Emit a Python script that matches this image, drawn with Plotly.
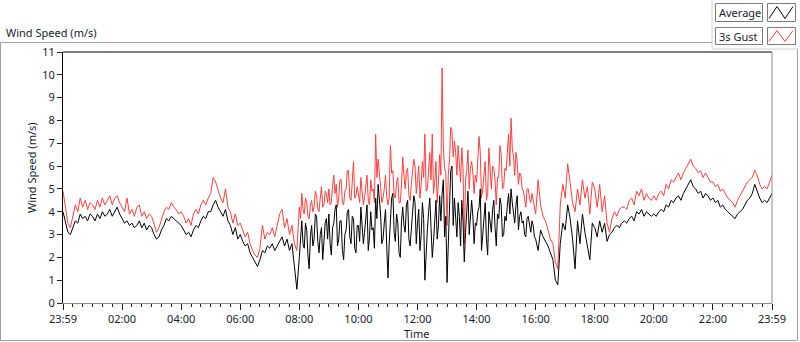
import numpy as np
import plotly.graph_objects as go

# ---- data ----
# 00:00-08:00 and 16:00-24:00 at 5-minute steps, 08:00-16:00 at 2.5-minute steps
tick_hours = [0, 2, 4, 6, 8, 10, 12, 14, 16, 18, 20, 22, 24]
tick_labels = ["23:59", "02:00", "04:00", "06:00", "08:00", "10:00", "12:00",
               "14:00", "16:00", "18:00", "20:00", "22:00", "23:59"]

avg_early = [
    4.0, 3.6, 3.1, 3.0, 3.3, 3.6, 3.5, 3.9, 3.7, 3.8, 3.6, 3.9,
    3.8, 3.6, 3.9, 3.7, 4.0, 3.8, 3.9, 4.1, 3.8, 4.0, 4.2, 3.9,
    3.7, 3.5, 3.6, 3.4, 3.5, 3.3, 3.4, 3.6, 3.3, 3.5, 3.2, 3.4,
    3.3, 3.0, 2.8, 2.9, 3.2, 3.4, 3.7, 3.6, 3.8, 3.7, 3.6, 3.5,
    3.4, 3.2, 3.0, 3.1, 2.9, 3.2, 3.4, 3.3, 3.6, 3.8, 3.7, 4.0,
    4.0, 4.3, 4.5, 4.2, 4.0, 3.8, 4.1, 3.6, 3.4, 3.0, 3.3, 2.8,
    3.0, 2.7, 2.5, 2.6, 2.2, 2.0, 1.8, 1.6, 1.9, 2.3, 2.2, 2.5,
    2.4, 2.6, 2.3, 2.5, 2.7, 2.9, 2.5, 2.8, 2.3, 2.6, 1.6, 0.6,
]
gust_early = [
    4.9, 4.2, 3.5, 3.3, 3.8, 4.3, 4.0, 4.6, 4.2, 4.5, 4.1, 4.4,
    4.3, 4.1, 4.5, 4.2, 4.6, 4.3, 4.5, 4.7, 4.3, 4.6, 4.7, 4.4,
    4.2, 4.0, 4.6, 3.9, 4.1, 3.8, 4.2, 4.3, 3.8, 4.0, 3.7, 3.9,
    3.8, 3.4, 3.1, 3.3, 3.7, 4.0, 4.2, 4.1, 4.4, 4.2, 4.1, 3.9,
    4.0, 3.8, 3.5, 3.7, 3.4, 3.9, 4.1, 3.9, 4.3, 4.5, 4.3, 4.6,
    4.8, 5.5, 5.3, 4.9, 4.6, 4.4, 5.0, 4.2, 4.0, 3.5, 3.9, 3.4,
    3.5, 3.2, 2.9, 3.1, 2.6, 2.3, 2.1, 2.0, 2.4, 3.4, 2.8, 3.1,
    3.0, 3.3, 2.9, 3.4, 3.9, 4.1, 3.3, 3.7, 3.0, 3.4, 2.6, 2.3,
]

avg_mid = [
    2.0, 3.1, 3.6, 2.6, 2.4, 3.5, 3.2, 2.1, 1.5, 2.9, 3.4, 2.5, 2.8, 3.9, 3.8, 2.7, 2.2, 3.0, 3.3, 1.9, 2.6, 3.5, 3.7, 2.8,
    3.9, 2.6, 2.1, 3.3, 3.5, 4.1, 4.3, 2.5, 2.8, 3.6, 3.6, 2.3, 1.9, 3.0, 3.2, 4.0, 4.1, 2.9, 2.6, 3.8, 3.7, 2.4, 2.2, 3.4,
    3.4, 2.7, 4.2, 3.5, 2.6, 3.1, 3.8, 4.3, 2.3, 2.9, 4.0, 3.2, 3.3, 2.4, 4.6, 3.7, 5.2, 4.4, 3.9, 2.6, 2.8, 3.5, 4.1, 2.5,
    1.1, 2.6, 3.8, 4.6, 4.8, 3.1, 2.7, 3.9, 3.5, 2.2, 2.0, 3.6, 4.2, 3.4, 3.1, 4.3, 4.5, 2.8, 2.5, 3.3, 3.8, 4.7, 4.4, 2.6,
    3.5, 4.1, 2.3, 3.0, 4.4, 3.7, 1.0, 2.5, 3.2, 4.0, 4.6, 3.3, 2.0, 2.7, 3.9, 4.5, 2.8, 3.4, 4.7, 3.6, 4.8, 5.4, 2.9, 3.8,
    0.9, 2.8, 4.2, 5.8, 6.0, 3.4, 4.6, 3.9, 2.9, 4.4, 3.8, 2.5, 4.5, 3.6, 1.8, 3.1, 4.1, 4.9, 3.0, 3.6, 4.5, 3.8, 2.6, 3.5,
    3.4, 4.0, 4.2, 5.0, 2.3, 3.0, 3.6, 4.4, 2.8, 2.1, 4.0, 3.5, 3.1, 4.1, 4.5, 3.3, 2.5, 3.9, 3.7, 4.6, 4.3, 2.9, 3.0, 3.8,
    3.6, 4.3, 4.8, 3.9, 5.0, 4.4, 3.9, 3.5, 4.3, 4.7, 3.2, 3.8, 4.0, 3.5, 3.6, 3.0, 2.9, 3.7, 3.8, 3.3, 3.1, 3.6, 3.4, 2.9,
]
gust_mid = [
    4.2, 3.7, 4.8, 4.1, 3.9, 4.6, 4.4, 3.8, 3.7, 4.3, 4.5, 4.0, 4.2, 4.9, 4.7, 4.1, 4.0, 4.6, 5.1, 4.2, 4.3, 4.9, 4.8, 4.4,
    5.0, 4.3, 4.4, 5.1, 5.6, 4.8, 5.2, 4.2, 4.6, 5.4, 5.4, 4.4, 4.3, 4.9, 5.0, 5.8, 5.8, 4.6, 4.5, 5.3, 6.2, 4.6, 4.7, 5.1,
    4.8, 4.4, 5.5, 5.0, 4.3, 4.6, 5.2, 5.6, 4.5, 4.3, 5.4, 4.9, 5.0, 4.4, 7.4, 5.5, 6.3, 5.8, 5.1, 4.4, 4.6, 5.0, 5.6, 4.7,
    4.3, 4.6, 6.9, 5.7, 5.8, 4.7, 4.6, 5.3, 5.5, 4.4, 4.4, 5.2, 6.4, 5.6, 5.0, 5.8, 5.9, 4.7, 4.5, 5.2, 5.7, 6.3, 6.0, 4.8,
    5.4, 6.0, 4.6, 5.2, 6.2, 5.5, 7.4, 4.9, 5.0, 5.8, 6.6, 5.4, 7.4, 4.8, 5.3, 6.2, 4.4, 5.3, 6.5, 5.6, 10.3, 6.8, 5.9, 5.7,
    3.4, 5.6, 6.3, 7.7, 7.5, 6.4, 7.1, 6.6, 5.6, 6.9, 6.0, 5.3, 6.8, 5.9, 2.6, 5.4, 5.8, 6.7, 5.0, 5.9, 6.2, 5.7, 4.8, 5.6,
    5.3, 6.1, 7.3, 6.6, 4.6, 5.0, 5.6, 6.2, 4.5, 4.8, 6.8, 5.6, 5.0, 6.0, 5.9, 5.4, 4.3, 5.5, 5.5, 6.9, 6.5, 5.0, 5.1, 5.9,
    5.8, 6.6, 7.4, 6.0, 8.1, 6.8, 6.4, 5.6, 6.6, 6.2, 5.2, 5.7, 5.6, 5.0, 4.9, 4.6, 4.2, 5.0, 5.0, 4.6, 4.4, 4.8, 4.5, 4.2,
]

avg_late = [
    2.8, 2.3, 3.2, 2.9, 2.7, 2.5, 2.2, 1.9, 1.0, 0.8, 2.6, 3.5,
    3.2, 4.3, 3.7, 2.8, 1.5, 3.6, 2.6, 3.9, 3.1, 2.4, 1.9, 3.5,
    3.3, 2.9, 3.6, 3.1, 3.5, 2.7, 3.0, 3.1, 3.3, 3.4, 3.3, 3.5,
    3.6, 3.5, 3.7, 3.8, 3.6, 4.0, 3.9, 4.1, 3.8, 4.0, 3.9, 3.8,
    3.9, 3.8, 4.0, 4.1, 4.0, 4.3, 4.2, 4.5, 4.4, 4.6, 4.7, 4.5,
    4.8, 5.0, 5.2, 5.4, 5.1, 5.0, 4.8, 4.9, 4.6, 4.8, 4.7, 4.5,
    4.6, 4.4, 4.5, 4.2, 4.3, 4.1, 4.0, 3.9, 3.8, 3.7, 3.9, 4.0,
    4.1, 4.3, 4.5, 4.6, 4.8, 5.2, 4.9, 4.6, 4.4, 4.5, 4.4, 4.6,
    4.8,
]
gust_late = [
    3.9, 5.4, 4.3, 3.8, 3.6, 3.2, 2.8, 2.6, 1.8, 1.5, 4.3, 5.2,
    4.6, 6.1, 5.2, 4.4, 4.0, 5.0, 4.3, 5.4, 4.6, 5.1, 3.9, 5.3,
    5.0, 4.2, 5.2, 4.0, 4.7, 3.5, 3.1, 3.7, 4.0, 3.8, 4.1, 4.2,
    4.2, 4.1, 4.5, 4.6, 4.3, 4.9, 4.7, 5.0, 4.5, 4.8, 4.6, 4.5,
    4.7, 4.5, 4.8, 4.9, 4.7, 5.2, 5.0, 5.4, 5.3, 5.5, 5.7, 5.4,
    5.7, 5.9, 6.1, 6.3, 6.0, 5.9, 5.7, 5.8, 5.5, 5.7, 5.5, 5.3,
    5.3, 5.1, 5.2, 4.9, 5.0, 4.8, 4.6, 4.5, 4.4, 4.2, 4.5, 4.7,
    4.9, 5.1, 5.3, 5.4, 5.5, 5.8, 5.6, 5.2, 5.0, 5.1, 5.0, 5.3,
    5.6,
]

# sample times in hours since the start of the record
hours = np.concatenate([
    np.arange(len(avg_early)) * 5 / 60.0,
    8 + np.arange(len(avg_mid)) * 2.5 / 60.0,
    16 + np.arange(len(avg_late)) * 5 / 60.0,
])
average = avg_early + avg_mid + avg_late
gust = gust_early + gust_mid + gust_late

# ---- geometry helpers (pixel -> paper) ----
W, H = 800, 342
L, R, T, B = 63, 28, 52, 39
PW, PH = W - L - R, H - T - B


def px(x):
    return (x - L) / PW


def py(y):
    return (H - B - y) / PH


FONT = "Noto Sans, Open Sans, sans-serif"
FS = 11
TXT = "#1a1a2e"
RED = "#ff3f3f"

fig = go.Figure()
fig.add_trace(go.Scatter(x=hours, y=gust, mode="lines",
                         line=dict(color=RED, width=1), hoverinfo="skip",
                         showlegend=False))
fig.add_trace(go.Scatter(x=hours, y=average, mode="lines",
                         line=dict(color="black", width=1), hoverinfo="skip",
                         showlegend=False))

fig.update_layout(
    width=W, height=H,
    margin=dict(l=L, r=R, t=T, b=B, pad=0),
    paper_bgcolor="white", plot_bgcolor="white",
    font=dict(family=FONT, size=FS, color=TXT),
    showlegend=False,
)

fig.update_xaxes(
    range=[0, 24], tickmode="array", tickvals=tick_hours, ticktext=tick_labels,
    showgrid=False, zeroline=False, showline=True, linecolor="#8c8c8c",
    linewidth=1, ticks="outside", ticklen=6, tickcolor="#202020",
    tickfont=dict(family=FONT, size=FS, color=TXT),
    minor=dict(tickmode="linear", tick0=0, dtick=1 / 3, ticks="outside",
               ticklen=3, tickcolor="#202020", showgrid=False),
)
fig.update_yaxes(
    range=[0, 11], tickmode="linear", tick0=0, dtick=1,
    showgrid=False, zeroline=False, showline=True, linecolor="black",
    linewidth=1, ticks="outside", ticklen=5, tickcolor="#202020",
    tickfont=dict(family=FONT, size=FS, color=TXT),
)

shapes = []
# plot frame: top black, right grey
shapes.append(dict(type="line", xref="paper", yref="paper", x0=0, x1=1, y0=1, y1=1,
                   line=dict(color="black", width=1)))
shapes.append(dict(type="line", xref="paper", yref="paper", x0=1, x1=1, y0=0, y1=1,
                   line=dict(color="#8c8c8c", width=1)))
# outer grey frame
frame_col = "#a0a0a0"
for (x0, y0, x1, y1) in [(0.5, 42.5, 712, 42.5), (0.5, 42.5, 0.5, 340.5),
                         (0.5, 340.5, 797.5, 340.5), (797.5, 49, 797.5, 340.5)]:
    shapes.append(dict(type="line", xref="paper", yref="paper",
                       x0=px(x0), x1=px(x1), y0=py(y0), y1=py(y1),
                       line=dict(color=frame_col, width=1)))
leg_col = "#d0d0d0"
for (x0, y0, x1, y1) in [(712, 0, 712, 49), (712, 49, 798, 49)]:
    shapes.append(dict(type="line", xref="paper", yref="paper",
                       x0=px(x0), x1=px(x1), y0=py(y0), y1=py(y1),
                       line=dict(color=leg_col, width=1)))

# legend boxes
legend_names = ["Average", "3s Gust"]
legend_colors = ["black", RED]
rows = [(3.5, 21.5), (27.5, 44.5)]
annotations = []
for (name, col, (ya, yb)) in zip(legend_names, legend_colors, rows):
    shapes.append(dict(type="rect", xref="paper", yref="paper",
                       x0=px(715.5), x1=px(762.5), y0=py(yb), y1=py(ya),
                       line=dict(color="#7a7a7a", width=1), fillcolor="white"))
    shapes.append(dict(type="rect", xref="paper", yref="paper",
                       x0=px(767.5), x1=px(795.5), y0=py(yb), y1=py(ya),
                       line=dict(color="#7a7a7a", width=1), fillcolor="white"))
    # zigzag icon
    pts = [(769, yb - 3), (777, ya + 3), (785, yb - 3), (793, ya + 3)]
    path = "M " + " L ".join(f"{px(a):.5f},{py(b):.5f}" for a, b in pts)
    shapes.append(dict(type="path", xref="paper", yref="paper", path=path,
                       line=dict(color=col, width=1)))
    annotations.append(dict(text=name, xref="paper", yref="paper",
                            x=px(716.5), y=py((ya + yb) / 2), xanchor="left",
                            yanchor="middle", showarrow=False,
                            font=dict(family=FONT, size=FS, color=TXT)))

annotations.append(dict(text="Wind Speed (m/s)", xref="paper", yref="paper",
                        x=px(4), y=py(32), xanchor="left", yanchor="middle",
                        showarrow=False,
                        font=dict(family=FONT, size=FS, color=TXT)))
annotations.append(dict(text="Wind Speed (m/s)", xref="paper", yref="paper",
                        x=px(31), y=py(168), xanchor="center", yanchor="middle",
                        textangle=-90, showarrow=False,
                        font=dict(family=FONT, size=FS, color=TXT)))
annotations.append(dict(text="Time", xref="paper", yref="paper",
                        x=px(416), y=py(333), xanchor="center", yanchor="middle",
                        showarrow=False,
                        font=dict(family=FONT, size=FS, color=TXT)))

fig.update_layout(shapes=shapes, annotations=annotations)
fig.write_html("out.html", config={"displayModeBar": False})

# remove the default page margin so the figure sits at the window's top-left
with open("out.html", "r", encoding="utf-8") as f:
    html = f.read()
html = html.replace("<head>", "<head><style>html,body{margin:0;padding:0;overflow:hidden;}</style>", 1)
with open("out.html", "w", encoding="utf-8") as f:
    f.write(html)
